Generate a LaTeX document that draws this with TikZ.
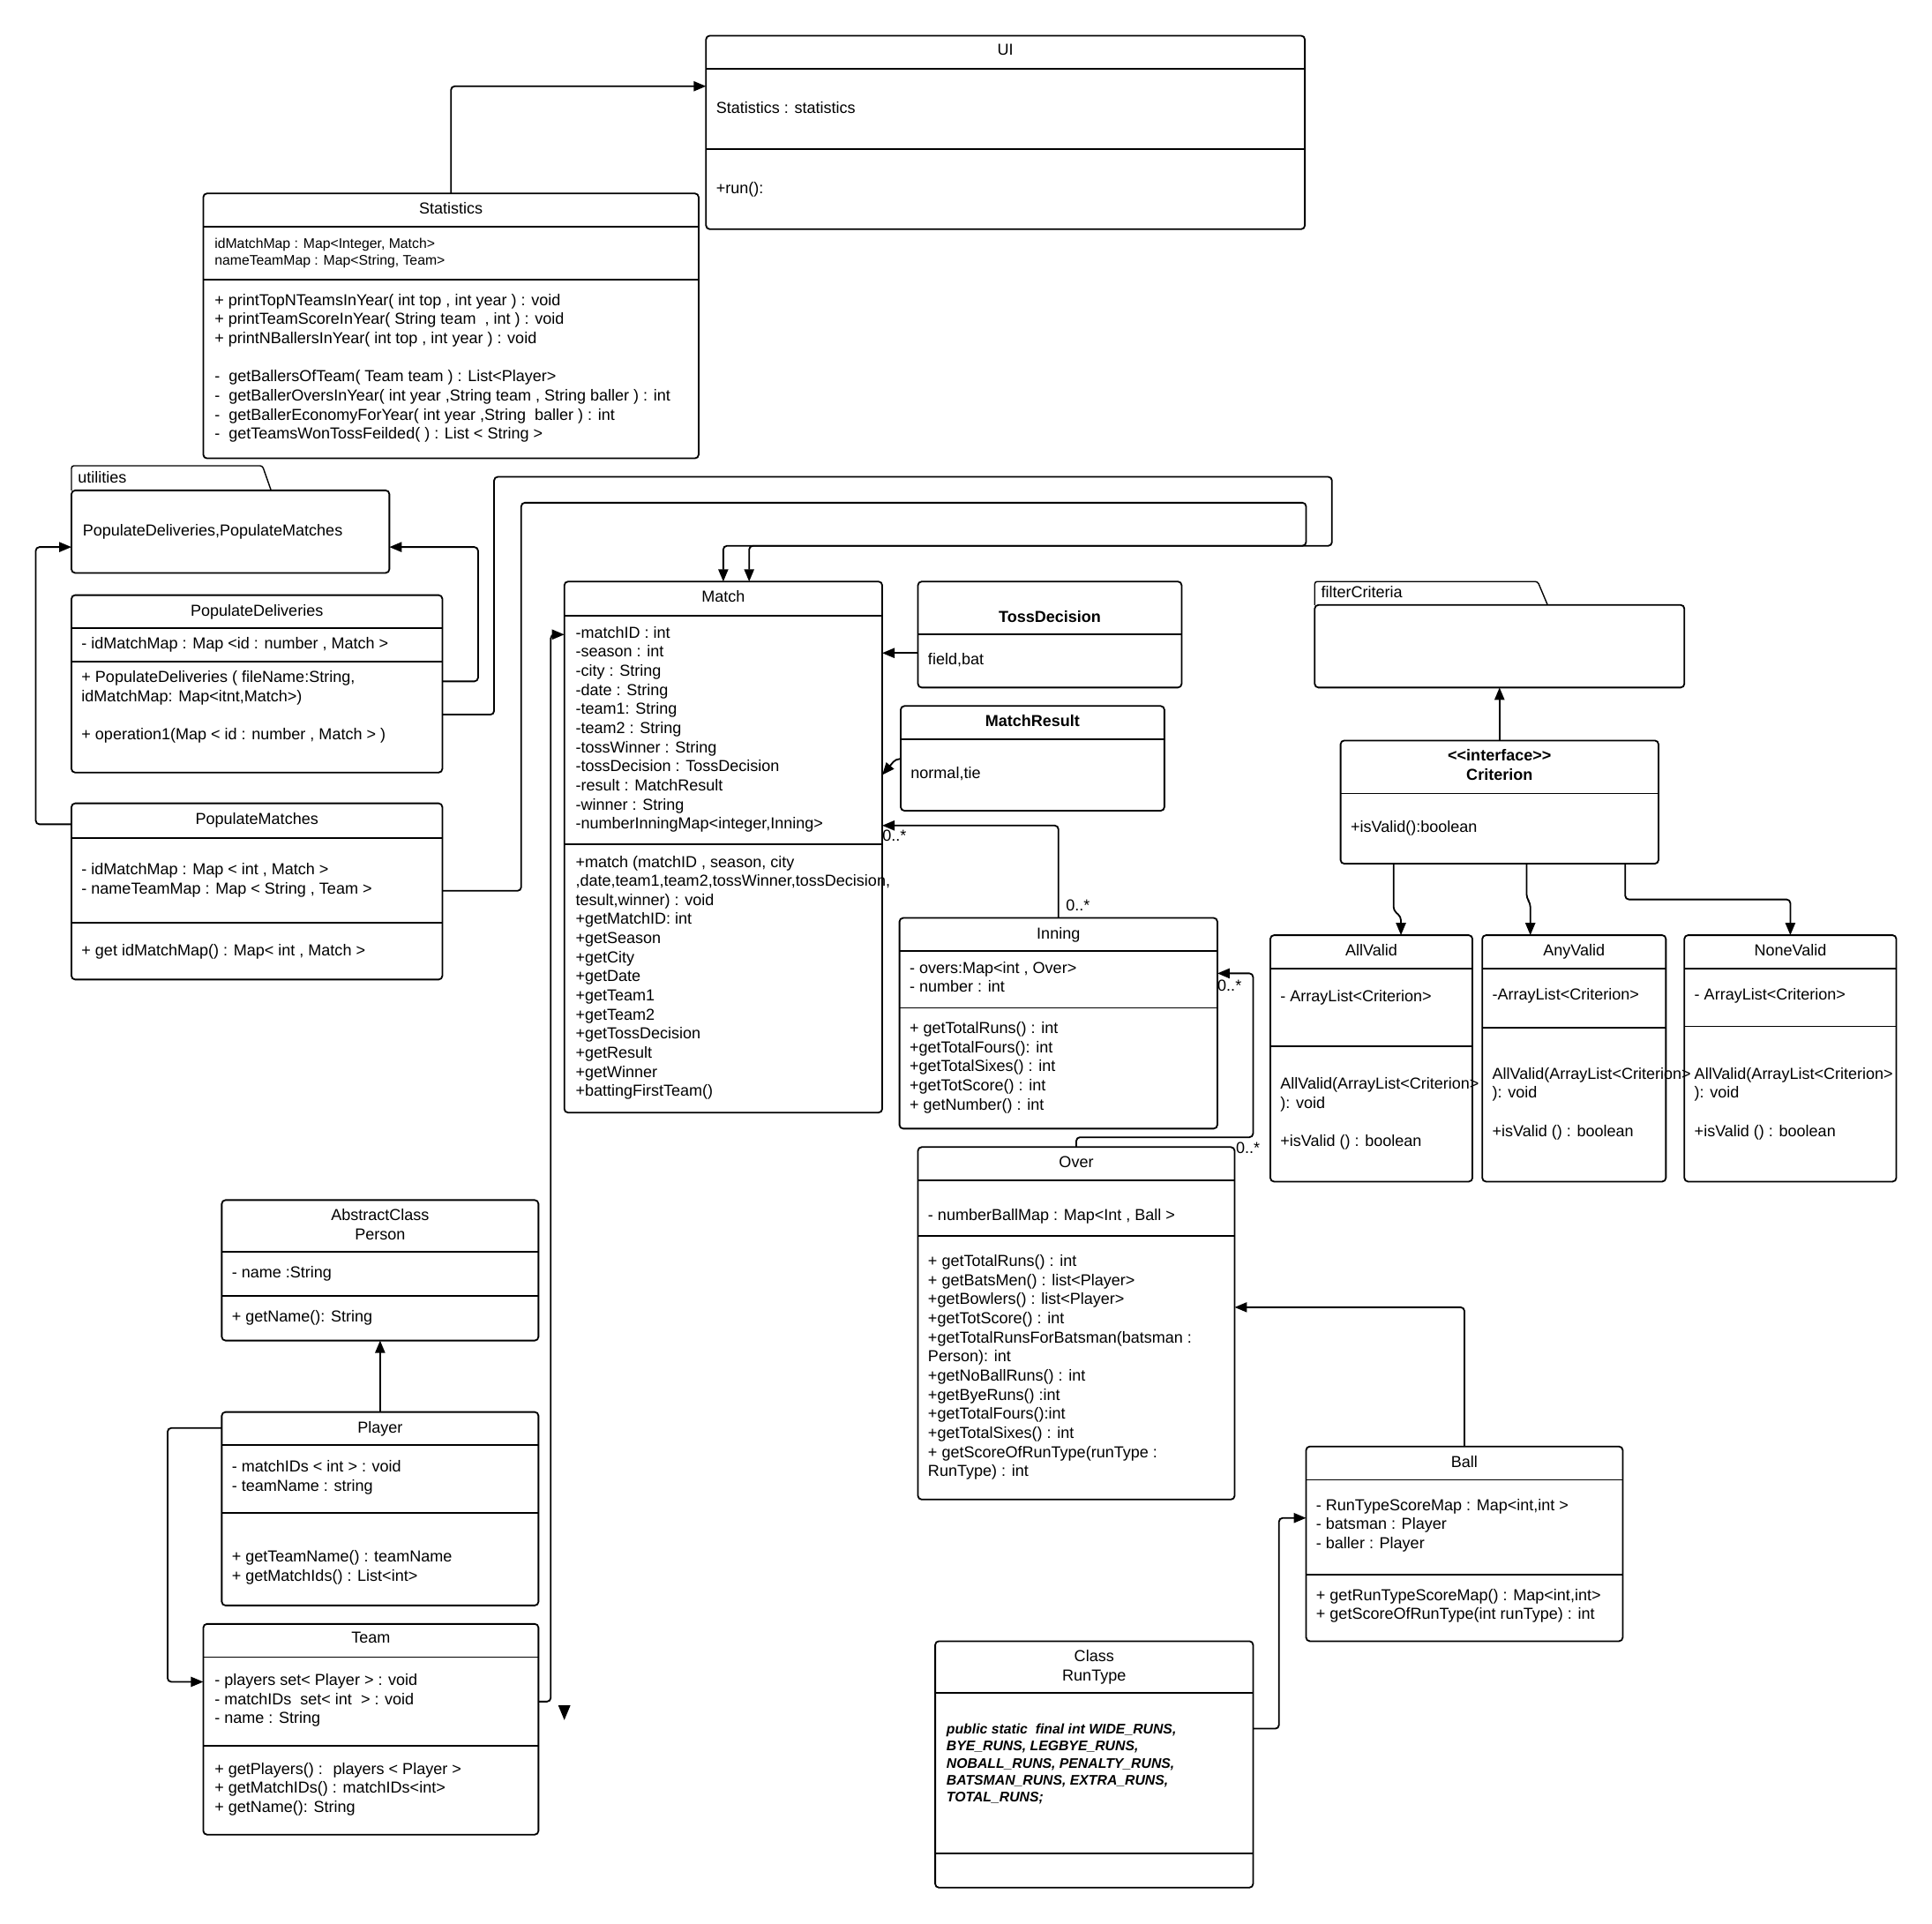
\documentclass[tikz,border=0pt]{standalone}
\usepackage{fontspec}
\setmainfont{Liberation Sans}
\usetikzlibrary{arrows.meta}
\newcommand\fa{\fontsize{12.9}{15.5}\selectfont}
\newcommand\fb{\fontsize{11.3}{13.8}\selectfont}
\newcommand\ubox[5]{\node[ubx, minimum width={#4pt-#2pt}, minimum height={#5pt-#3pt}] (#1) at ({(#2+#4)/2},{(#3+#5)/2}) {};}
\newcommand\udiv[2]{\draw[ubl] (#1.west |- 0,#2) -- (#1.east |- 0,#2);}
\begin{document}
\begin{tikzpicture}[x=1pt,y=-1pt,
 ubx/.style={draw, line width=1.3pt, rounded corners=3pt, inner sep=0pt, outer sep=0pt},
 ubl/.style={line width=1.3pt},
 tabl/.style={line width=1pt, rounded corners=2pt},
 con/.style={line width=1.3pt, rounded corners=3pt, -{Triangle[length=10pt,width=8pt]}},
 tx/.style={anchor=north west, inner sep=0pt, align=left, font=\fa, yshift=6.23pt},
 tb/.style={anchor=north west, inner sep=0pt, align=left, font=\fb, yshift=5.61pt},
 tt/.style={anchor=north, inner sep=0pt, align=center, font=\fa, yshift=6.23pt},
 ttb/.style={anchor=north, inner sep=0pt, align=center, font=\fa\bfseries, yshift=6.23pt},
 lab/.style={anchor=west, inner sep=0pt, font=\fa}]
\useasboundingbox (0,0) rectangle (1568,1561);
\fill[white] (0,0) rectangle (1568,1561);

% UI
\ubox{ui}{573}{29}{1059}{186}
\udiv{ui}{56}\udiv{ui}{121}
\node[tt] (ui-t) at (816,40) {\strut UI};
\node[tx] (ui-a) at (581,87) {\strut Statistics : statistics};
\node[tx] (ui-m) at (581,152) {\strut +run():};

% Statistics
\ubox{stat}{165}{157}{567}{372}
\udiv{stat}{184}\udiv{stat}{227}
\node[tt] (stat-t) at (366,169) {\strut Statistics};
\node[tb] (stat-a) at (174,197) {\strut idMatchMap : Map<Integer, Match>\\nameTeamMap : Map<String, Team>};
\node[tx] (stat-m) at (174,243) {\strut + printTopNTeamsInYear( int top , int year ) : void\\
+ printTeamScoreInYear( String team~ , int ) : void\\
+ printNBallersInYear( int top , int year ) : void\\[15.5pt]
-~ getBallersOfTeam( Team team ) : List<Player>\\
-~ getBallerOversInYear( int year ,String team , String baller ) : int\\
-~ getBallerEconomyForYear( int year ,String~ baller ) : int\\
-~ getTeamsWonTossFeilded( ) : List < String >};

% utilities package
\draw[tabl] (58,398) -- (58,378) -- (213,378) -- (220,398);
\ubox{util}{58}{398}{316}{465}
\node[tx] (util-l) at (63,387) {\strut utilities};
\node[tx] (util-a) at (67,430) {\strut PopulateDeliveries,PopulateMatches};

% PopulateDeliveries
\ubox{popd}{58}{483}{359}{627}
\udiv{popd}{510}\udiv{popd}{537}
\node[tt] (popd-t) at (208.5,495) {\strut PopulateDeliveries};
\node[tx] (popd-a) at (66,522) {\strut - idMatchMap : Map <id : number , Match >};
\node[tx] (popd-m) at (66,549) {\strut + PopulateDeliveries ( fileName:String,\\idMatchMap: Map<itnt,Match>)\\[15.5pt]+ operation1(Map < id : number , Match > )};

% PopulateMatches
\ubox{popm}{58}{652}{359}{795}
\udiv{popm}{680}\udiv{popm}{749}
\node[tt] (popm-t) at (208.5,664) {\strut PopulateMatches};
\node[tx] (popm-a) at (66,705) {\strut - idMatchMap : Map < int , Match >\\- nameTeamMap : Map < String , Team >};
\node[tx] (popm-m) at (66,771) {\strut + get idMatchMap() : Map< int , Match >};

% Match
\ubox{match}{458}{472}{716}{903}
\udiv{match}{500}\udiv{match}{685}
\node[tt] (match-t) at (587,484) {\strut Match};
\node[tx] (match-a) at (467,513) {\strut -matchID : int\\-season : int\\-city : String\\-date : String\\-team1: String\\-team2 : String\\-tossWinner : String\\-tossDecision : TossDecision\\-result : MatchResult\\-winner : String\\-numberInningMap<integer,Inning>};
\node[tx] (match-m) at (467,699) {\strut +match (matchID , season, city\\,date,team1,team2,tossWinner,tossDecision,\\tesult,winner) : void\\+getMatchID: int\\+getSeason\\+getCity\\+getDate\\+getTeam1\\+getTeam2\\+getTossDecision\\+getResult\\+getWinner\\+battingFirstTeam()};

% TossDecision
\ubox{toss}{745}{472}{959}{558}
\udiv{toss}{515}
\node[ttb] (toss-t) at (852,500) {\strut TossDecision};
\node[tx] (toss-a) at (753,535) {\strut field,bat};

% MatchResult
\ubox{mres}{731}{573}{945}{658}
\udiv{mres}{600}
\node[ttb] (mres-t) at (838,585) {\strut MatchResult};
\node[tx] (mres-a) at (739,627) {\strut normal,tie};

% Inning
\ubox{inn}{730}{745}{988}{916}
\udiv{inn}{772}\udiv{inn}{818}
\node[tt] (inn-t) at (859,757) {\strut Inning};
\node[tx] (inn-a) at (738,785) {\strut - overs:Map<int , Over>\\- number : int};
\node[tx] (inn-m) at (738,834) {\strut + getTotalRuns() : int\\+getTotalFours(): int\\+getTotalSixes() : int\\+getTotScore() : int\\+ getNumber() : int};

% Over
\ubox{over}{745}{931}{1002}{1217}
\udiv{over}{958}\udiv{over}{1003}
\node[tt] (over-t) at (873.5,943) {\strut Over};
\node[tx] (over-a) at (753,986) {\strut - numberBallMap : Map<Int , Ball >};
\node[tx] (over-m) at (753,1023) {\strut + getTotalRuns() : int\\+ getBatsMen() : list<Player>\\+getBowlers() : list<Player>\\+getTotScore() : int\\+getTotalRunsForBatsman(batsman :\\Person): int\\+getNoBallRuns() : int\\+getByeRuns() :int\\+getTotalFours():int\\+getTotalSixes() : int\\+ getScoreOfRunType(runType :\\RunType) : int};

% Ball
\ubox{ball}{1060}{1174}{1317}{1332}
\udiv{ball}{1201}\udiv{ball}{1278}
\node[tt] (ball-t) at (1188.5,1186) {\strut Ball};
\node[tx] (ball-a) at (1068,1221) {\strut - RunTypeScoreMap : Map<int,int >\\- batsman : Player\\- baller : Player};
\node[tx] (ball-m) at (1068,1294) {\strut + getRunTypeScoreMap() : Map<int,int>\\+ getScoreOfRunType(int runType) : int};

% RunType
\ubox{rt}{759}{1332}{1017}{1532}
\udiv{rt}{1374}\udiv{rt}{1504}
\node[tt] (rt-t) at (888,1344) {\strut Class\\RunType};
\node[tb, font=\fb\bfseries\itshape] (rt-a) at (768,1403) {\strut public static~ final int WIDE\_RUNS,\\BYE\_RUNS, LEGBYE\_RUNS,\\NOBALL\_RUNS, PENALTY\_RUNS,\\BATSMAN\_RUNS, EXTRA\_RUNS,\\TOTAL\_RUNS;};

% Person
\ubox{person}{180}{974}{437}{1088}
\udiv{person}{1016}\udiv{person}{1052}
\node[tt] (person-t) at (308.5,986) {\strut AbstractClass\\Person};
\node[tx] (person-a) at (188,1032) {\strut - name :String};
\node[tx] (person-m) at (188,1068) {\strut + getName(): String};

% Player
\ubox{player}{180}{1146}{437}{1303}
\udiv{player}{1173}\udiv{player}{1228}
\node[tt] (player-t) at (308.5,1158) {\strut Player};
\node[tx] (player-a) at (188,1190) {\strut - matchIDs < int > : void\\- teamName : string};
\node[tx] (player-m) at (188,1263) {\strut + getTeamName() : teamName\\+ getMatchIds() : List<int>};

% Team
\ubox{team}{165}{1318}{437}{1489}
\udiv{team}{1345}\udiv{team}{1417}
\node[tt] (team-t) at (301,1329) {\strut Team};
\node[tx] (team-a) at (174,1363) {\strut - players set< Player > : void\\- matchIDs~ set< int~ > : void\\- name : String};
\node[tx] (team-m) at (174,1435) {\strut + getPlayers() :~ players < Player >\\+ getMatchIDs() : matchIDs<int>\\+ getName(): String};

% filterCriteria package
\draw[tabl] (1067,491) -- (1067,472) -- (1248,472) -- (1256,491);
\ubox{filt}{1067}{491}{1367}{558}
\node[tx] (filt-l) at (1072,480) {\strut filterCriteria};

% Criterion
\ubox{crit}{1088}{601}{1346}{701}
\udiv{crit}{644}
\node[ttb] (crit-t) at (1217,613) {\strut <\kern0pt<interface>\kern0pt>\\Criterion};
\node[tx] (crit-m) at (1096,671) {\strut +isValid():boolean};

% AllValid
\ubox{allv}{1031}{759}{1195}{959}
\udiv{allv}{786}\udiv{allv}{849}
\node[tt] (allv-t) at (1113,771) {\strut AllValid};
\node[tx] (allv-a) at (1039,808) {\strut - ArrayList<Criterion>};
\node[tx] (allv-m) at (1039,879) {\strut AllValid(ArrayList<Criterion>\\): void\\[15.5pt]+isValid () : boolean};

% AnyValid
\ubox{anyv}{1203}{759}{1352}{959}
\udiv{anyv}{786}\udiv{anyv}{834}
\node[tt] (anyv-t) at (1277.5,771) {\strut AnyValid};
\node[tx] (anyv-a) at (1211,807) {\strut -ArrayList<Criterion>};
\node[tx] (anyv-m) at (1211,871) {\strut AllValid(ArrayList<Criterion>\\): void\\[15.5pt]+isValid () : boolean};

% NoneValid
\ubox{nonev}{1367}{759}{1539}{959}
\udiv{nonev}{786}\udiv{nonev}{833}
\node[tt] (nonev-t) at (1453,771) {\strut NoneValid};
\node[tx] (nonev-a) at (1375,807) {\strut - ArrayList<Criterion>};
\node[tx] (nonev-m) at (1375,871) {\strut AllValid(ArrayList<Criterion>\\): void\\[15.5pt]+isValid () : boolean};

% ---------- connectors ----------
\draw[con] (stat.north) -- (366,70) -- (ui.west |- 0,70);
\draw[con] (popd.east |- 0,553) -- (388,553) -- (388,444) -- (util.east |- 0,444);
\draw[con] (popd.east |- 0,580) -- (401,580) -- (401,387) -- (1081,387) -- (1081,443) -- (587,443) -- (match.north -| 587,0);
\draw[con] (popm.east |- 0,723) -- (423,723) -- (423,408) -- (1060,408) -- (1060,443) -- (608,443) -- (match.north -| 608,0);
\draw[con] (popm.west |- 0,669) -- (29,669) -- (29,444) -- (util.west |- 0,444);
\draw[con] (toss.west |- 0,530) -- (match.east |- 0,530);
\draw[con] (mres.west |- 0,616) -- (727,616) -- (match.east |- 0,629);
\draw[con] (inn.north) -- (859,670) -- (match.east |- 0,670);
\node[lab] (m-mult) at (716,678) {0..*};
\node[lab] (i-mult) at (865,735) {0..*};
\draw[con] (over.north) -- (873.5,923) -- (1017,923) -- (1017,790) -- (inn.east |- 0,790);
\node[lab] (i-mult2) at (988,800) {0..*};
\node[lab] (o-mult) at (1003,932) {0..*};
\draw[con] (ball.north) -- (1188.5,1061) -- (over.east |- 0,1061);
\draw[con] (rt.east |- 0,1403) -- (1038,1403) -- (1038,1232) -- (ball.west |- 0,1232);
\draw[con] (player.north) -- (person.south);
\draw[con] (player.west |- 0,1159) -- (136,1159) -- (136,1365) -- (team.west |- 0,1365);
\draw[con] (team.east |- 0,1381) -- (447,1381) -- (447,515) -- (match.west |- 0,515);
\fill (453,1384) -- (463,1384) -- (458,1396) -- cycle;
\draw[con] (crit.north) -- (filt.south);
\draw[con] (crit.south -| 1131,0) -- (1131,739) -- (1137,744) -- (allv.north -| 1137,0);
\draw[con] (crit.south -| 1239,0) -- (1239,729) -- (1242,733) -- (anyv.north -| 1242,0);
\draw[con] (crit.south -| 1319,0) -- (1319,730) -- (1453,730) -- (nonev.north -| 1453,0);
\end{tikzpicture}
\end{document}
